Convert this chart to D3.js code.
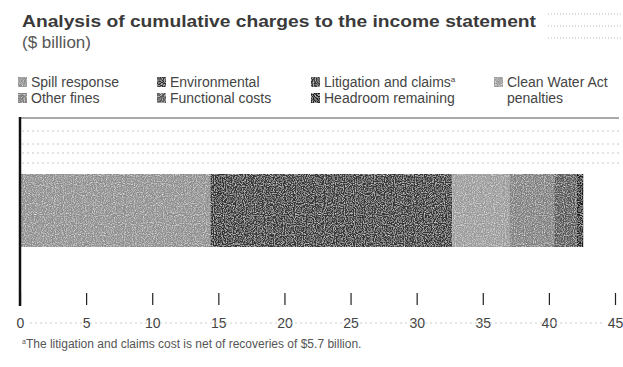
<!DOCTYPE html>
<html><head><meta charset="utf-8">
<script src="https://cdn.jsdelivr.net/npm/d3@7"></script>
<style>
html,body{margin:0;padding:0;background:#fff;}
svg{display:block;font-family:"Liberation Sans",Arial,sans-serif;}
</style></head>
<body>
<svg id="chart" width="623" height="367"></svg>
<script>
// ---- data ----
const seriesNames = ["Spill response","Environmental","Litigation and claims","Clean Water Act penalties","Other fines","Functional costs","Headroom remaining"];
const seriesValues = [14.4, 1.1, 17.2, 4.3, 3.4, 1.7, 0.5];
const seriesColors = ["#8e8e8e","#2e2e2e","#363636","#9a9a9a","#7e7e7e","#555555","#1e1e1e"];
const legendLabels = ["Spill response","Environmental","Litigation and claims\u1D43","Clean Water Act|penalties","Other fines","Functional costs","Headroom remaining"];
const xTicks = [0,5,10,15,20,25,30,35,40,45];
const titleText = "Analysis of cumulative charges to the income statement";
const subtitleText = "($ billion)";
const footnoteText = "The litigation and claims cost is net of recoveries of $5.7 billion.";

const svg = d3.select("#chart");
const defs = svg.append("defs");
// grain filter to mimic the scanned halftone
const f = defs.append("filter").attr("id","grain").attr("x",0).attr("y",0).attr("width",1).attr("height",1);
f.append("feTurbulence").attr("type","fractalNoise").attr("baseFrequency",0.9).attr("numOctaves",1).attr("seed",3).attr("result","n");
f.append("feColorMatrix").attr("in","n").attr("type","matrix")
 .attr("values","0 0 0 0 1  0 0 0 0 1  0 0 0 0 1  0.9 0.9 0.9 0 -1.25").attr("result","w");
f.append("feComposite").attr("in","w").attr("in2","SourceGraphic").attr("operator","in").attr("result","wc");
f.append("feMerge").selectAll("feMergeNode").data(["SourceGraphic","wc"]).join("feMergeNode").attr("in",d=>d);

const x = d3.scaleLinear().domain([0,45]).range([20,615]);

// title
svg.append("text").attr("x",22).attr("y",27).attr("font-size",17).attr("font-weight","bold")
  .attr("fill","#3a3a3a").attr("textLength",514).attr("lengthAdjust","spacingAndGlyphs").text(titleText);
svg.append("text").attr("x",22).attr("y",48).attr("font-size",17).attr("fill","#555").text(subtitleText);

// dotted artifacts near title right
[14,26,38].forEach(yy=>svg.append("line").attr("x1",548).attr("x2",623).attr("y1",yy).attr("y2",yy)
  .attr("stroke","#bbb").attr("stroke-dasharray","1,2"));

// legend
const legPos = [[18,87],[157,87],[311,87],[494,87],[18,103],[157,103],[311,103]];
const leg = svg.append("g");
seriesNames.forEach((n,i)=>{
  const [lx,ly] = legPos[i];
  leg.append("rect").attr("x",lx).attr("y",ly-10).attr("width",9).attr("height",10)
    .attr("fill",seriesColors[i]).attr("filter","url(#grain)");
  const parts = legendLabels[i].split("|");
  parts.forEach((p,j)=>{
    const t = leg.append("text").attr("x",lx+13).attr("y",ly+j*16).attr("font-size",14).attr("fill","#444");
    if(p.endsWith("\u1D43")){
      t.append("tspan").text(p.slice(0,-1));
      t.append("tspan").attr("font-size",8).attr("dy",-5).text("a");
    } else t.text(p);
  });
});

// top frame line and faint dotted gridlines
svg.append("line").attr("x1",20).attr("x2",619).attr("y1",118).attr("y2",118).attr("stroke","#555").attr("stroke-width",1);
[131,144,153,163].forEach(yy=>svg.append("line").attr("x1",22).attr("x2",619).attr("y1",yy).attr("y2",yy)
  .attr("stroke","#c8c8c8").attr("stroke-dasharray","2,3"));

// stacked bar
let acc = 0;
const segs = seriesValues.map((v,i)=>{const s={name:seriesNames[i],x0:acc,x1:acc+v,c:seriesColors[i]}; acc+=v; return s;});
svg.append("g").selectAll("rect").data(segs).join("rect")
  .attr("x",d=>x(d.x0)).attr("width",d=>x(d.x1)-x(d.x0))
  .attr("y",174).attr("height",73).attr("fill",d=>d.c).attr("filter","url(#grain)");

// x axis
const ax = svg.append("g").attr("transform","translate(0,305)")
  .call(d3.axisBottom(x).tickValues(xTicks).tickSize(-12).tickPadding(13));
ax.select(".domain").remove();
ax.selectAll(".tick line").attr("stroke","#222").attr("stroke-width",1.2);
ax.selectAll(".tick text").attr("font-size",14).attr("fill","#444").attr("font-family","Liberation Sans, Arial, sans-serif");

// faint dotted line between labels
svg.append("line").attr("x1",30).attr("x2",605).attr("y1",323).attr("y2",323).attr("stroke","#ccc").attr("stroke-dasharray","2,3");

// left axis line
svg.append("line").attr("x1",20).attr("x2",20).attr("y1",117).attr("y2",306).attr("stroke","#111").attr("stroke-width",2.5);

// footnote
const fn = svg.append("text").attr("x",22).attr("y",348).attr("font-size",12).attr("fill","#555");
fn.append("tspan").attr("font-size",7).attr("dy",-4).text("a");
fn.append("tspan").attr("dy",4).text(footnoteText);
</script>
</body></html>
